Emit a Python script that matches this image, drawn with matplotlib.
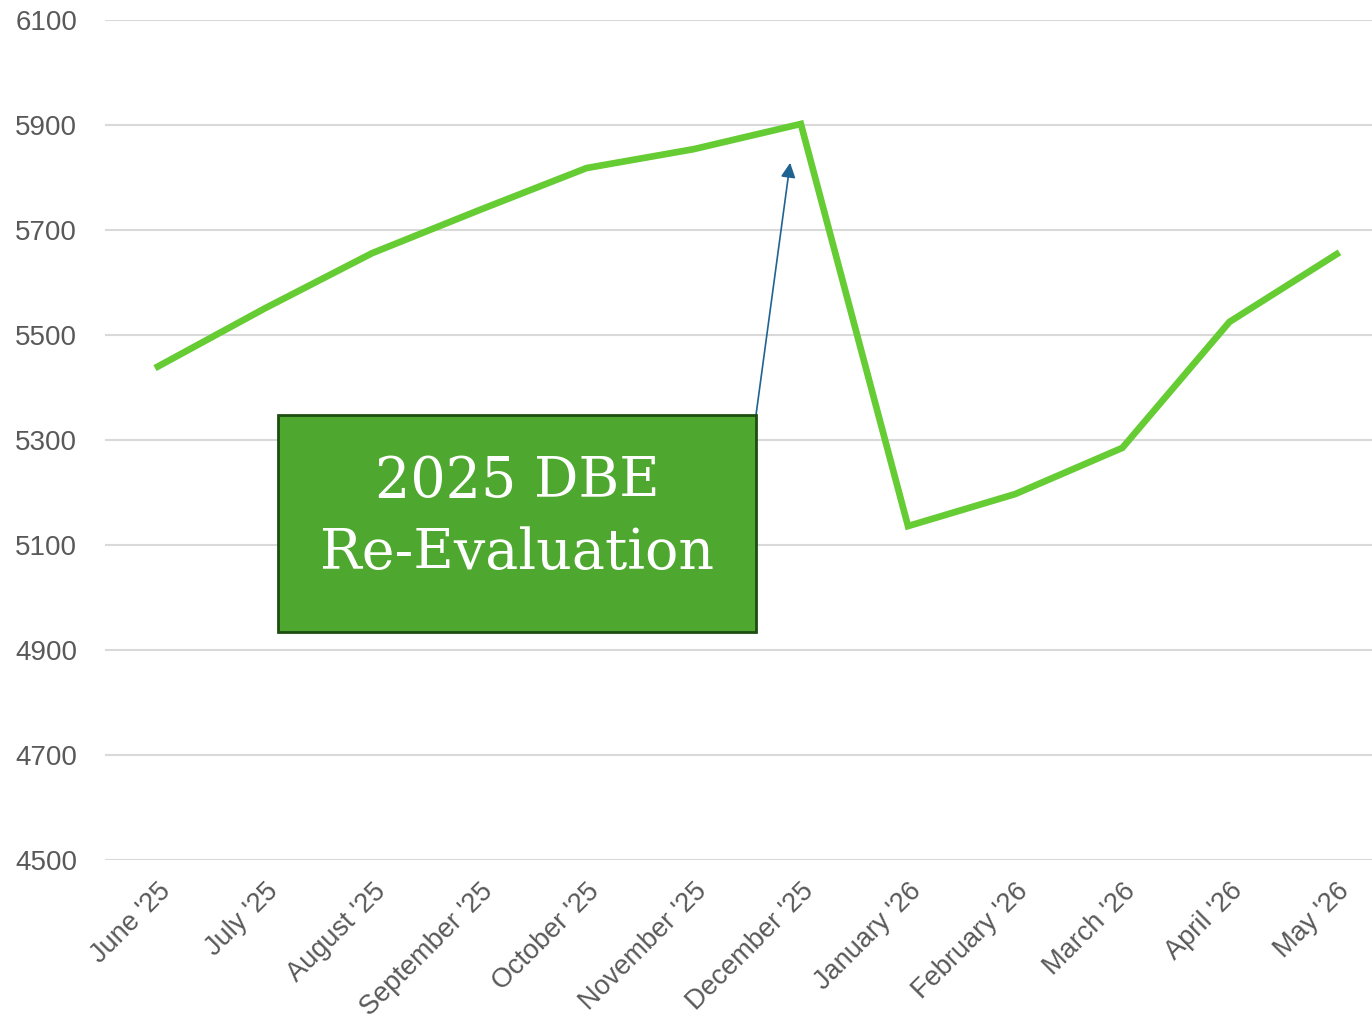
import matplotlib.pyplot as plt
from matplotlib.patches import Rectangle

months = ["June '25", "July '25", "August '25", "September '25", "October '25",
          "November '25", "December '25", "January '26", "February '26",
          "March '26", "April '26", "May '26"]
values = [5440, 5551, 5656, 5738, 5818, 5854, 5902, 5136, 5197, 5285, 5525, 5654]
yticks = [4500, 4700, 4900, 5100, 5300, 5500, 5700, 5900, 6100]

line_color = "#66cc33"
grid_color = "#d9d9d9"
text_color = "#595959"

plt.rcParams["font.family"] = ["Liberation Sans", "DejaVu Sans"]

fig = plt.figure(figsize=(13.72, 10.24), dpi=100)
W, H = 1372, 1024
ax = fig.add_axes([105 / W, (H - 860) / H, (W - 105) / W, (860 - 20) / H])

x = list(range(len(months)))
ax.plot(x, values, color=line_color, lw=4.8, solid_joinstyle="miter", zorder=3)

ax.set_xlim(-0.494, 11.33)
ax.set_ylim(4500, 6100)
ax.set_yticks(yticks)
ax.set_yticklabels([str(t) for t in yticks], fontsize=20, color=text_color)
ax.set_xticks(x)
ax.set_xticklabels(months, rotation=45, ha="right", va="top",
                   rotation_mode="anchor", fontsize=19.5, color=text_color)
ax.tick_params(axis="both", length=0)
ax.tick_params(axis="y", pad=20)
ax.tick_params(axis="x", pad=13)
ax.grid(axis="y", color=grid_color, lw=1.5)
ax.set_axisbelow(True)
for s in ax.spines.values():
    s.set_visible(False)

# annotation box
bx0, by0, bx1, by1 = 278 / W, (H - 632) / H, 756 / W, (H - 415) / H
fig.patches.append(Rectangle((bx0, by0), bx1 - bx0, by1 - by0, transform=fig.transFigure,
                             facecolor="#4ea72e", edgecolor="#1e4d0f", lw=2, zorder=5))
fig.text((bx0 + bx1) / 2, (by0 + by1) / 2 + 6 / H, "2025 DBE\nRe-Evaluation",
         ha="center", va="center", color="white", fontsize=40,
         family="DejaVu Serif", linespacing=1.42, zorder=6)

ax.annotate("", xy=(5.9, 5828), xycoords="data",
            xytext=(bx1, by1), textcoords="figure fraction",
            arrowprops=dict(arrowstyle="-|>", color="#1f6391", lw=1.2,
                            mutation_scale=22, shrinkA=0, shrinkB=0), zorder=4)

fig.savefig("out.png", dpi=100)
